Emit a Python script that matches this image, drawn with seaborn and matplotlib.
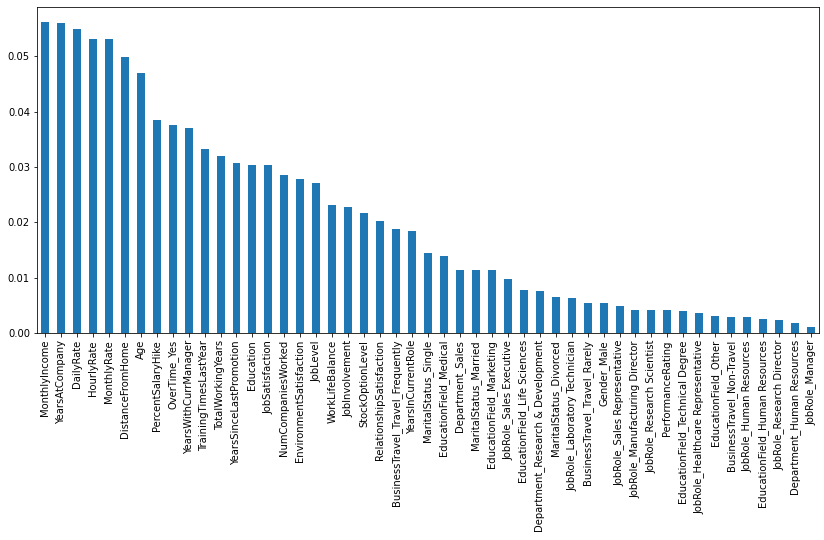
import pandas as pd
import numpy as np
import seaborn as sns
import matplotlib.pyplot as plt

# feature importances (sorted)
features = ['MonthlyIncome', 'YearsAtCompany', 'DailyRate', 'HourlyRate', 'MonthlyRate',
            'DistanceFromHome', 'Age', 'PercentSalaryHike', 'OverTime_Yes', 'YearsWithCurrManager',
            'TrainingTimesLastYear', 'TotalWorkingYears', 'YearsSinceLastPromotion', 'Education',
            'JobSatisfaction', 'NumCompaniesWorked', 'EnvironmentSatisfaction', 'JobLevel',
            'WorkLifeBalance', 'JobInvolvement', 'StockOptionLevel', 'RelationshipSatisfaction',
            'BusinessTravel_Travel_Frequently', 'YearsInCurrentRole', 'MaritalStatus_Single',
            'EducationField_Medical', 'Department_Sales', 'MaritalStatus_Married',
            'EducationField_Marketing', 'JobRole_Sales Executive', 'EducationField_Life Sciences',
            'Department_Research & Development', 'MaritalStatus_Divorced',
            'JobRole_Laboratory Technician', 'BusinessTravel_Travel_Rarely', 'Gender_Male',
            'JobRole_Sales Representative', 'JobRole_Manufacturing Director',
            'JobRole_Research Scientist', 'PerformanceRating', 'EducationField_Technical Degree',
            'JobRole_Healthcare Representative', 'EducationField_Other', 'BusinessTravel_Non-Travel',
            'JobRole_Human Resources', 'EducationField_Human Resources', 'JobRole_Research Director',
            'Department_Human Resources', 'JobRole_Manager']

importance = [0.0562, 0.0560, 0.0549, 0.0531, 0.0531, 0.0499, 0.0470, 0.0385, 0.0376, 0.0370,
              0.0333, 0.0320, 0.0307, 0.0304, 0.0304, 0.0286, 0.0278, 0.0271, 0.0231, 0.0228,
              0.0217, 0.0202, 0.0188, 0.0184, 0.0145, 0.0139, 0.0114, 0.0114, 0.0114, 0.0098,
              0.0078, 0.0076, 0.0065, 0.0063, 0.0054, 0.0054, 0.0049, 0.0042, 0.0042, 0.0042,
              0.0040, 0.0036, 0.0031, 0.0029, 0.0029, 0.0025, 0.0024, 0.0018, 0.0011]

df = pd.DataFrame({'feature': features, 'importance': importance})

# plain matplotlib look, 72 dpi like a notebook
fig = plt.figure(figsize=(824 / 72, 540 / 72), dpi=72)
ax = fig.add_axes([37 / 824, 1 - 333 / 540, (819 - 37) / 824, (333 - 7) / 540])

sns.barplot(x='feature', y='importance', data=df, color='#1f77b4', width=0.5,
            saturation=1, ax=ax)

ax.set_xlim(-0.5, len(features) - 0.5)
ax.set_ylim(0, max(importance) * 1.048)
ax.set(xlabel='', ylabel='')
ax.tick_params(axis='x', labelrotation=90, labelsize=10)
ax.tick_params(axis='y', labelsize=10)
for s in ax.spines.values():
    s.set_color('black')

plt.savefig('out.png', dpi=72)
